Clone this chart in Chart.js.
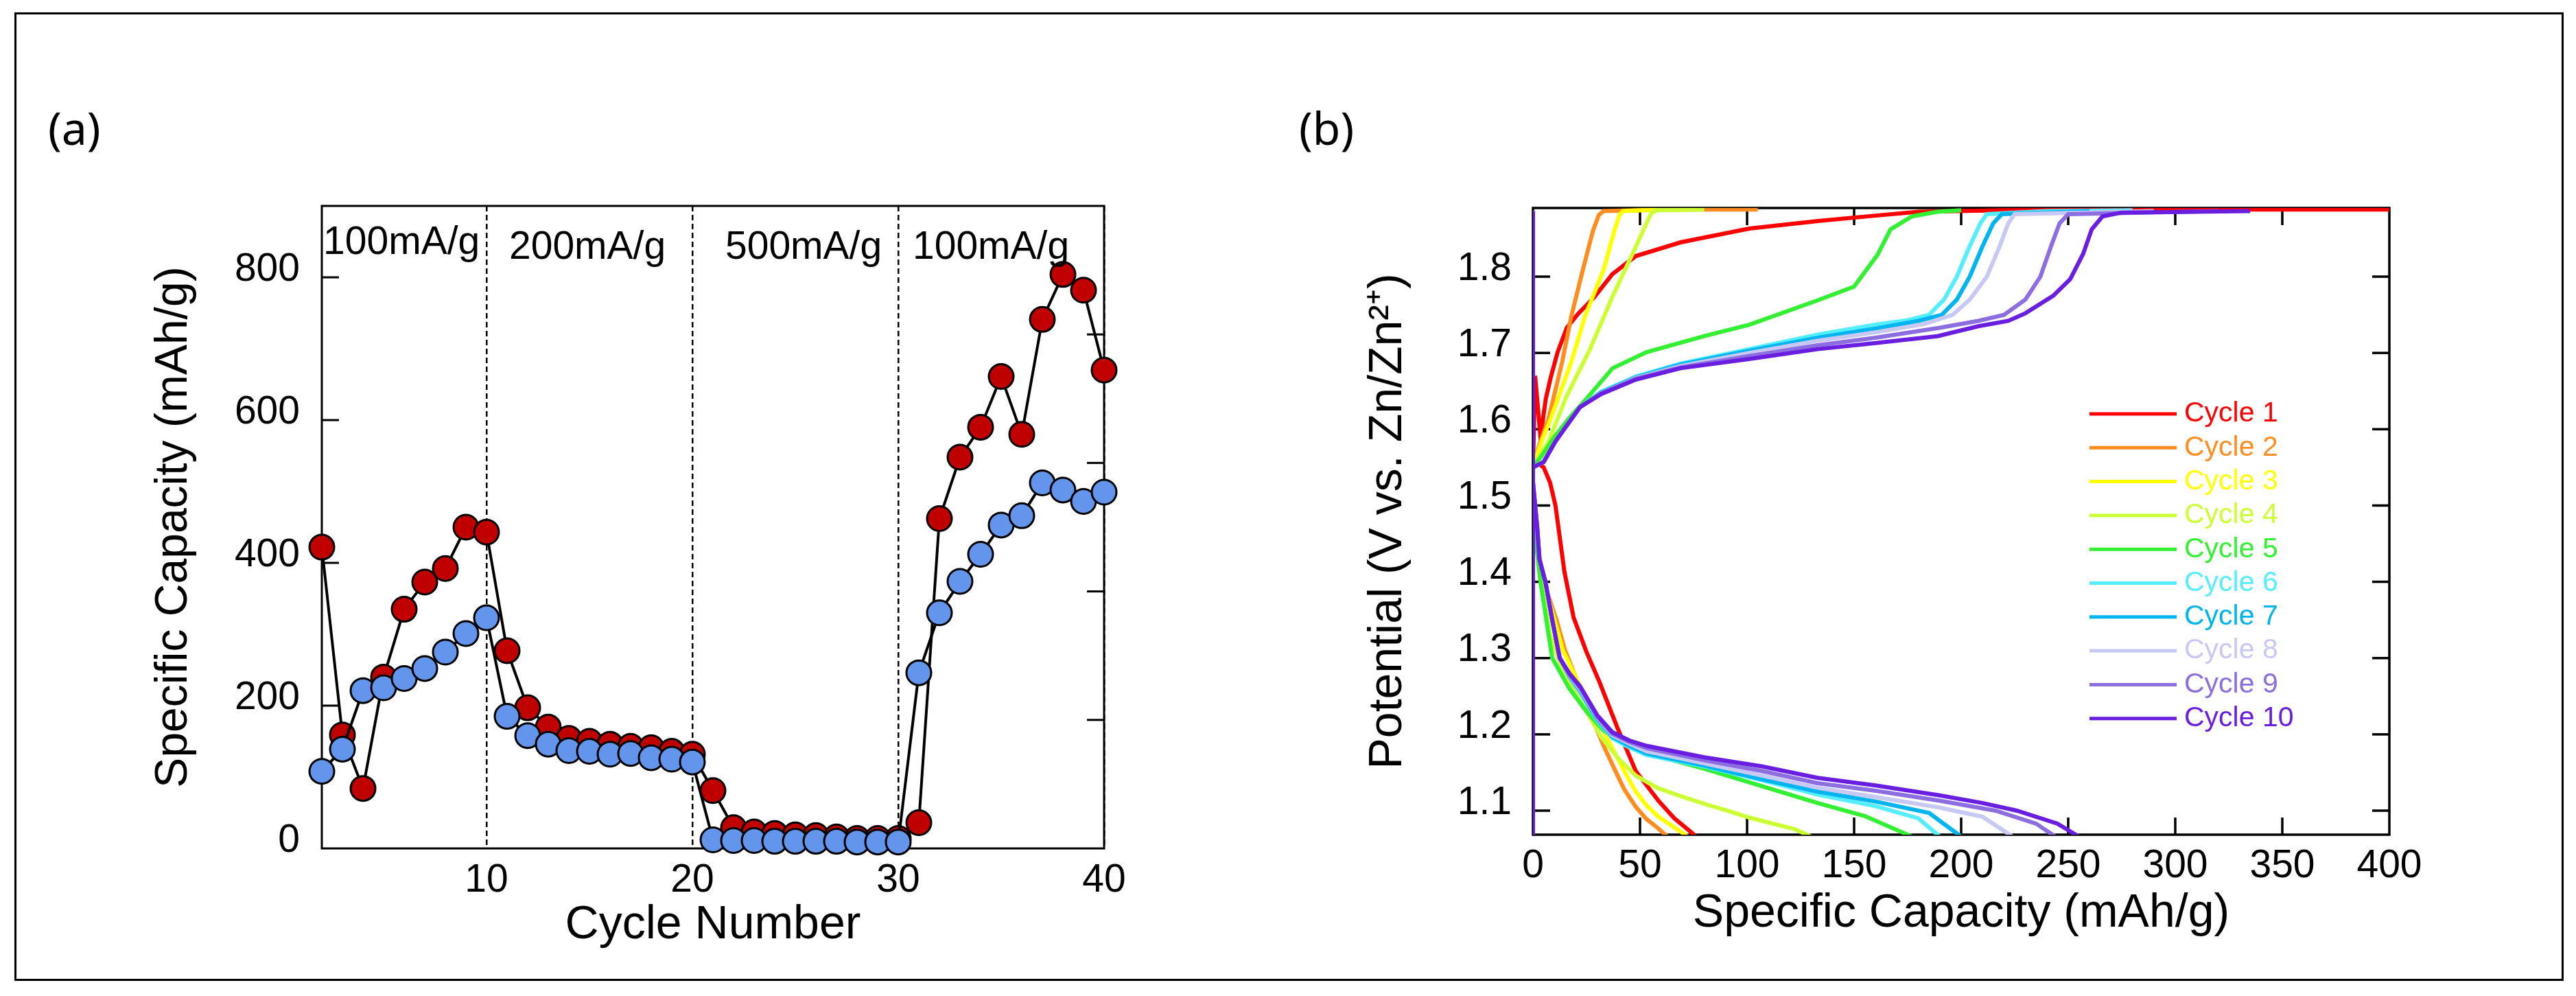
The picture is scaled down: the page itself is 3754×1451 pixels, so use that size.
<!DOCTYPE html>
<html>
<head>
<meta charset="utf-8">
<script src="https://cdn.jsdelivr.net/npm/chart.js@4.4.1/dist/chart.umd.min.js"></script>
<style>
  html, body { margin: 0; padding: 0; background: #fff; }
  #page { position: relative; width: 3754px; height: 1451px; overflow: hidden; }
  #frame { position: absolute; left: 21px; top: 18px; width: 3715px; height: 1411px; border: 3px solid #000; box-sizing: border-box; }
  canvas { position: absolute; top: 0; }
  #chartA { left: 0; }
  #chartB { left: 1870px; }
</style>
</head>
<body>
<div id="page">
  <div id="frame"></div>
  <canvas id="chartA" width="1870" height="1451"></canvas>
  <canvas id="chartB" width="1884" height="1451"></canvas>
</div>
<script>
// ---- panel (a): rate capability ----
const cycleNumbers = [2, 3, 4, 5, 6, 7, 8, 9, 10, 11, 12, 13, 14, 15, 16, 17, 18, 19, 20, 21,
  22, 23, 24, 25, 26, 27, 28, 29, 30, 31, 32, 33, 34, 35, 36, 37, 38, 39, 40];
const redCapacity = [422, 159, 84, 240, 335, 373, 392, 450, 443, 277, 197, 170, 154, 150, 146, 143, 141, 136, 132, 81,
  29, 23, 21, 19, 18, 16, 14, 14, 14, 36, 462, 548, 590, 661, 580, 741, 804, 782, 670];
const blueCapacity = [108, 139, 221, 225, 238, 252, 275, 301, 323, 185, 158, 146, 137, 136, 132, 133, 127, 125, 121, 12,
  11, 11, 10, 10, 10, 10, 9, 9, 9, 246, 330, 374, 412, 453, 466, 512, 502, 486, 499];
const xTicksA = [10, 20, 30, 40];
const yTicksA = [0, 200, 400, 600, 800];
const rightTicksA = [0, 20, 40, 60, 80, 100];
const rateLabels = ['100mA/g', '200mA/g', '500mA/g', '100mA/g'];
const rateLabelX = [2.07, 11.1, 21.6, 30.7];
const rateLabelY = [833, 826, 826, 826];

// ---- panel (b): charge / discharge profiles ----
const cycleLabels = ['Cycle 1', 'Cycle 2', 'Cycle 3', 'Cycle 4', 'Cycle 5', 'Cycle 6', 'Cycle 7', 'Cycle 8', 'Cycle 9', 'Cycle 10'];
const cycleColors = ['#FF0000', '#FF8C1E', '#FFFF00', '#CCFF33', '#33F033', '#55EEFF', '#00B4F0', '#C8C8F5', '#8C6EE0', '#6A1EE0'];
const chargeCap = [
  [0, 0, 1, 3.5, 6, 8.3, 11.5, 15.8, 21, 28.6, 37, 48, 69, 101, 133, 160, 180, 220, 300, 400],
  [0, 0, 3, 7.3, 13.7, 18, 23.3, 28, 30.8, 33, 60, 105],
  [0, 0, 3.5, 8.3, 18, 24.4, 33, 38, 40.4, 42, 60],
  [0, 0, 3, 7.3, 15.8, 26.5, 37, 48, 53, 55.4, 58, 80],
  [0, 0, 4, 10, 17, 24.4, 37.2, 53, 80, 101, 133, 150, 161, 167, 177, 189, 200],
  [0, 0, 5, 10.5, 15.8, 22, 31.8, 48, 69, 101, 133, 160, 175, 185, 192, 198, 204, 209, 212, 240, 280],
  [0, 0, 5, 10.5, 15.8, 22, 31.8, 48, 69, 101, 133, 160, 180, 191, 198, 204, 210, 215, 219, 260],
  [0, 0, 5, 10.5, 15.8, 22, 31.8, 48, 69, 101, 133, 160, 183, 196, 204, 212, 218, 222, 225, 290],
  [0, 0, 5, 10.5, 15.8, 22, 31.8, 48, 69, 101, 133, 160, 190, 208, 220, 230, 237, 242, 246, 250, 320],
  [0, 0, 5, 10.5, 15.8, 22, 31.8, 48, 69, 101, 133, 160, 189, 208, 222, 230, 243, 251, 257, 261, 266, 275, 335]
];
const chargeV = [
  [1.068, 1.55, 1.67, 1.59, 1.64, 1.668, 1.701, 1.733, 1.751, 1.773, 1.803, 1.827, 1.845, 1.863, 1.873, 1.88, 1.885, 1.887, 1.888, 1.888],
  [1.068, 1.55, 1.58, 1.614, 1.689, 1.749, 1.809, 1.86, 1.881, 1.886, 1.888, 1.888],
  [1.068, 1.55, 1.58, 1.614, 1.689, 1.749, 1.809, 1.86, 1.881, 1.886, 1.888],
  [1.068, 1.55, 1.565, 1.584, 1.644, 1.704, 1.773, 1.839, 1.87, 1.884, 1.887, 1.888],
  [1.068, 1.55, 1.565, 1.59, 1.615, 1.638, 1.68, 1.701, 1.722, 1.737, 1.769, 1.787, 1.829, 1.862, 1.879, 1.885, 1.887],
  [1.068, 1.55, 1.557, 1.584, 1.605, 1.629, 1.649, 1.669, 1.686, 1.705, 1.724, 1.737, 1.743, 1.75, 1.77, 1.80, 1.84, 1.87, 1.882, 1.886, 1.887],
  [1.068, 1.55, 1.557, 1.584, 1.605, 1.629, 1.648, 1.668, 1.685, 1.703, 1.72, 1.732, 1.742, 1.75, 1.77, 1.80, 1.84, 1.87, 1.882, 1.886],
  [1.068, 1.55, 1.557, 1.584, 1.605, 1.629, 1.647, 1.667, 1.683, 1.70, 1.716, 1.727, 1.738, 1.75, 1.77, 1.80, 1.84, 1.87, 1.882, 1.886],
  [1.068, 1.55, 1.557, 1.584, 1.605, 1.629, 1.647, 1.666, 1.681, 1.696, 1.71, 1.72, 1.733, 1.742, 1.75, 1.77, 1.80, 1.84, 1.87, 1.882, 1.886],
  [1.068, 1.55, 1.557, 1.584, 1.605, 1.629, 1.646, 1.665, 1.68, 1.692, 1.705, 1.713, 1.722, 1.735, 1.742, 1.752, 1.775, 1.797, 1.83, 1.862, 1.879, 1.884, 1.886]
];
const dischargeCap = [
  [0, 0, 5, 8, 10.5, 14.7, 19, 25, 31, 39.4, 48, 58.6, 66, 74.6, 76],
  [0, 0, 2, 5, 11, 15, 20, 26, 30, 33, 38, 42.6, 48, 53, 58, 62.8],
  [0, 0, 2, 5, 10, 14, 20, 26, 32, 37, 43, 48, 53, 58.6, 65, 72.4],
  [0, 0, 2, 4, 8, 13, 18, 25, 31.8, 40, 48, 58, 69, 80, 90.7, 101, 112, 122, 130],
  [0, 0, 1.5, 3.5, 9, 17, 25, 33, 45, 60, 80, 107, 133, 155, 177],
  [0, 0, 2, 3, 5.8, 9, 12.5, 17, 22, 30, 37, 45, 53, 80, 107, 133, 160, 180, 190],
  [0, 0, 2, 3, 5.8, 9, 12.5, 17, 22, 30, 37, 45, 53, 80, 107, 133, 160, 185, 200],
  [0, 0, 2, 3, 5.8, 9, 12.5, 17, 22, 30, 37, 45, 53, 80, 107, 133, 160, 190, 210, 224],
  [0, 0, 2, 3, 5.8, 9, 12.5, 17, 22, 30, 37, 45, 53, 80, 107, 133, 160, 190, 216, 235, 244],
  [0, 0, 2, 3, 5.8, 9, 12.5, 17, 22, 30, 37, 45, 53, 80, 107, 133, 160, 190, 210, 226, 245, 255]
];
const dischargeV = [
  [1.886, 1.56, 1.55, 1.53, 1.50, 1.413, 1.353, 1.308, 1.269, 1.209, 1.152, 1.113, 1.09, 1.07, 1.066],
  [1.886, 1.52, 1.45, 1.40, 1.35, 1.31, 1.275, 1.235, 1.205, 1.185, 1.155, 1.128, 1.105, 1.089, 1.078, 1.066],
  [1.886, 1.52, 1.45, 1.40, 1.35, 1.31, 1.275, 1.24, 1.21, 1.182, 1.15, 1.125, 1.107, 1.092, 1.08, 1.066],
  [1.886, 1.52, 1.45, 1.40, 1.33, 1.29, 1.263, 1.23, 1.197, 1.168, 1.146, 1.13, 1.119, 1.109, 1.10, 1.091, 1.083, 1.076, 1.066],
  [1.886, 1.52, 1.45, 1.40, 1.30, 1.26, 1.23, 1.205, 1.185, 1.17, 1.155, 1.132, 1.11, 1.093, 1.066],
  [1.886, 1.53, 1.47, 1.43, 1.40, 1.35, 1.30, 1.275, 1.255, 1.218, 1.195, 1.183, 1.173, 1.158, 1.14, 1.121, 1.106, 1.09, 1.066],
  [1.886, 1.53, 1.47, 1.43, 1.40, 1.35, 1.30, 1.276, 1.257, 1.22, 1.197, 1.185, 1.175, 1.159, 1.141, 1.125, 1.112, 1.097, 1.066],
  [1.886, 1.53, 1.47, 1.43, 1.40, 1.35, 1.30, 1.277, 1.259, 1.222, 1.199, 1.188, 1.178, 1.162, 1.146, 1.13, 1.118, 1.104, 1.092, 1.066],
  [1.886, 1.53, 1.47, 1.43, 1.40, 1.35, 1.30, 1.278, 1.261, 1.223, 1.201, 1.19, 1.182, 1.166, 1.152, 1.136, 1.126, 1.113, 1.10, 1.083, 1.066],
  [1.886, 1.53, 1.47, 1.43, 1.40, 1.35, 1.30, 1.28, 1.263, 1.225, 1.203, 1.192, 1.185, 1.17, 1.158, 1.143, 1.133, 1.12, 1.11, 1.10, 1.083, 1.066]
];
const xTicksB = [0, 50, 100, 150, 200, 250, 300, 350, 400];
const yTicksB = [1.1, 1.2, 1.3, 1.4, 1.5, 1.6, 1.7, 1.8];

const FONT = "'Liberation Sans', Arial, sans-serif";
const tickFont = { family: FONT, size: 57 };
const setTicks = (list) => (scale) => { scale.ticks = list.map(v => ({ value: v })); };

// box around the plot area plus inward tick marks
const frameTicks = {
  id: 'frameTicks',
  beforeDatasetsDraw(chart, args, opts) {
    const { ctx, chartArea: a, scales } = chart;
    ctx.save();
    ctx.strokeStyle = '#000';
    ctx.lineWidth = opts.width;
    ctx.strokeRect(a.left, a.top, a.right - a.left, a.bottom - a.top);
    opts.marks.forEach(m => {
      const s = scales[m.scale];
      s.ticks.forEach(t => {
        if (t.value <= s.min || t.value >= s.max) return;
        const p = s.getPixelForValue(t.value);
        ctx.beginPath();
        if (m.side === 'left') { ctx.moveTo(a.left, p); ctx.lineTo(a.left + opts.len, p); }
        else if (m.side === 'right') { ctx.moveTo(a.right, p); ctx.lineTo(a.right - opts.len, p); }
        else if (m.side === 'bottom') { ctx.moveTo(p, a.bottom); ctx.lineTo(p, a.bottom - opts.len); }
        else { ctx.moveTo(p, a.top); ctx.lineTo(p, a.top + opts.len); }
        ctx.stroke();
      });
    });
    ctx.restore();
  },
  afterDraw(chart, args, opts) {
    const ctx = chart.ctx;
    ctx.save();
    ctx.fillStyle = '#000';
    ctx.font = "66px 'Noto Sans', sans-serif";
    ctx.textBaseline = 'alphabetic';
    ctx.fillText(opts.panel.text, opts.panel.x, opts.panel.y);
    ctx.restore();
  }
};

// current density notes inside panel (a)
const rateNotes = {
  id: 'rateNotes',
  afterDatasetsDraw(chart) {
    const { ctx, scales: { x, y } } = chart;
    ctx.save();
    ctx.fillStyle = '#000';
    ctx.font = '57px ' + FONT;
    ctx.textBaseline = 'alphabetic';
    rateLabels.forEach((t, i) => ctx.fillText(t, x.getPixelForValue(rateLabelX[i]), y.getPixelForValue(rateLabelY[i])));
    ctx.restore();
  }
};

// legend of panel (b), drawn inside the plot area
const cycleLegend = {
  id: 'cycleLegend',
  afterDatasetsDraw(chart, args, opts) {
    const { ctx, chartArea: a } = chart;
    ctx.save();
    ctx.font = '41px ' + FONT;
    ctx.textBaseline = 'middle';
    chart.data.datasets.forEach((d, i) => {
      const yy = a.top + opts.top + i * opts.step;
      ctx.strokeStyle = d.borderColor;
      ctx.lineWidth = 5;
      ctx.beginPath();
      ctx.moveTo(a.left + opts.left, yy);
      ctx.lineTo(a.left + opts.left + opts.lineLen, yy);
      ctx.stroke();
      ctx.fillStyle = d.borderColor;
      ctx.fillText(d.label, a.left + opts.left + opts.lineLen + 11, yy);
    });
    ctx.restore();
  }
};

const toPoints = (xs, ys) => xs.map((v, i) => ({ x: v, y: ys[i] }));

new Chart(document.getElementById('chartA'), {
  type: 'line',
  data: {
    datasets: [
      { label: 'blue', data: toPoints(cycleNumbers, blueCapacity), order: 0,
        borderColor: '#000', borderWidth: 4, pointRadius: 18, pointBackgroundColor: '#6495ED',
        pointBorderColor: '#000', pointBorderWidth: 3, clip: false },
      { label: 'red', data: toPoints(cycleNumbers, redCapacity), order: 1,
        borderColor: '#000', borderWidth: 4, pointRadius: 18, pointBackgroundColor: '#C00000',
        pointBorderColor: '#000', pointBorderWidth: 3, clip: false }
    ]
  },
  options: {
    responsive: false,
    animation: false,
    devicePixelRatio: 1,
    layout: { padding: { left: 180, top: 300, right: 190, bottom: 31 } },
    plugins: {
      legend: { display: false },
      tooltip: { enabled: false },
      frameTicks: { width: 3, len: 25, panel: { text: '(a)', x: 70, y: 211 },
        marks: [{ scale: 'y', side: 'left' }, { scale: 'y2', side: 'right' }] }
    },
    scales: {
      x: {
        type: 'linear', min: 2, max: 40,
        afterBuildTicks: setTicks(xTicksA),
        afterFit: s => { s.height = 184; },
        grid: { color: '#000', lineWidth: 2.5, drawTicks: false },
        border: { display: false, dash: [8, 5] },
        ticks: { padding: 13, font: tickFont, color: '#000', maxRotation: 0 },
        title: { display: true, text: 'Cycle Number', color: '#000', font: { family: FONT, size: 68 }, padding: { top: 0, bottom: 31 } }
      },
      y: {
        min: 0, max: 900,
        afterBuildTicks: setTicks(yTicksA),
        afterFit: s => { s.width = 289; },
        grid: { display: false, drawTicks: false },
        border: { display: false },
        ticks: { padding: 32, labelOffset: -11, font: tickFont, color: '#000' },
        title: { display: true, text: 'Specific Capacity (mAh/g)', color: '#000', font: { family: FONT, size: 66 }, padding: { top: 34, bottom: 0 } }
      },
      y2: {
        position: 'right', min: 0, max: 100,
        afterBuildTicks: setTicks(rightTicksA),
        afterFit: s => { s.width = 71; },
        grid: { display: false, drawTicks: false },
        border: { display: false },
        ticks: { display: false }
      }
    }
  },
  plugins: [frameTicks, rateNotes]
});

const cycleDatasets = cycleLabels.map((name, i) => {
  const pts = toPoints(chargeCap[i], chargeV[i]);
  pts.push({ x: 0, y: null });
  return {
    label: name,
    data: pts.concat(toPoints(dischargeCap[i], dischargeV[i])),
    borderColor: cycleColors[i],
    borderWidth: 6,
    pointRadius: 0,
    fill: false,
    spanGaps: false,
    order: cycleLabels.length - i
  };
});

new Chart(document.getElementById('chartB'), {
  type: 'line',
  data: { datasets: cycleDatasets },
  options: {
    responsive: false,
    animation: false,
    devicePixelRatio: 1,
    layout: { padding: { left: 100, top: 303, right: 272, bottom: 31 } },
    plugins: {
      legend: { display: false },
      tooltip: { enabled: false },
      frameTicks: { width: 3.5, len: 25, panel: { text: '(b)', x: 23, y: 211 },
        marks: [{ scale: 'y', side: 'left' }, { scale: 'y', side: 'right' }, { scale: 'x', side: 'bottom' }, { scale: 'x', side: 'top' }] },
      cycleLegend: { left: 811, top: 300, step: 49.3, lineLen: 127 }
    },
    scales: {
      x: {
        type: 'linear', min: 0, max: 400,
        afterBuildTicks: setTicks(xTicksB),
        afterFit: s => { s.height = 204; },
        grid: { display: false, drawTicks: false },
        border: { display: false },
        ticks: { padding: 12, font: tickFont, color: '#000', maxRotation: 0 },
        title: { display: true, text: 'Specific Capacity (mAh/g)', color: '#000', font: { family: FONT, size: 68 }, padding: { top: 0, bottom: 48 } }
      },
      y: {
        min: 1.0685, max: 1.89,
        afterBuildTicks: setTicks(yTicksB),
        afterFit: s => { s.width = 264; },
        grid: { display: false, drawTicks: false },
        border: { display: false },
        ticks: { padding: 31, labelOffset: -11, font: tickFont, color: '#000', callback: v => v.toFixed(1) },
        title: { display: true, text: 'Potential (V vs. Zn/Zn²⁺)', color: '#000', font: { family: FONT, size: 68 }, padding: { top: 12, bottom: 0 } }
      }
    }
  },
  plugins: [frameTicks, cycleLegend]
});
</script>
</body>
</html>
